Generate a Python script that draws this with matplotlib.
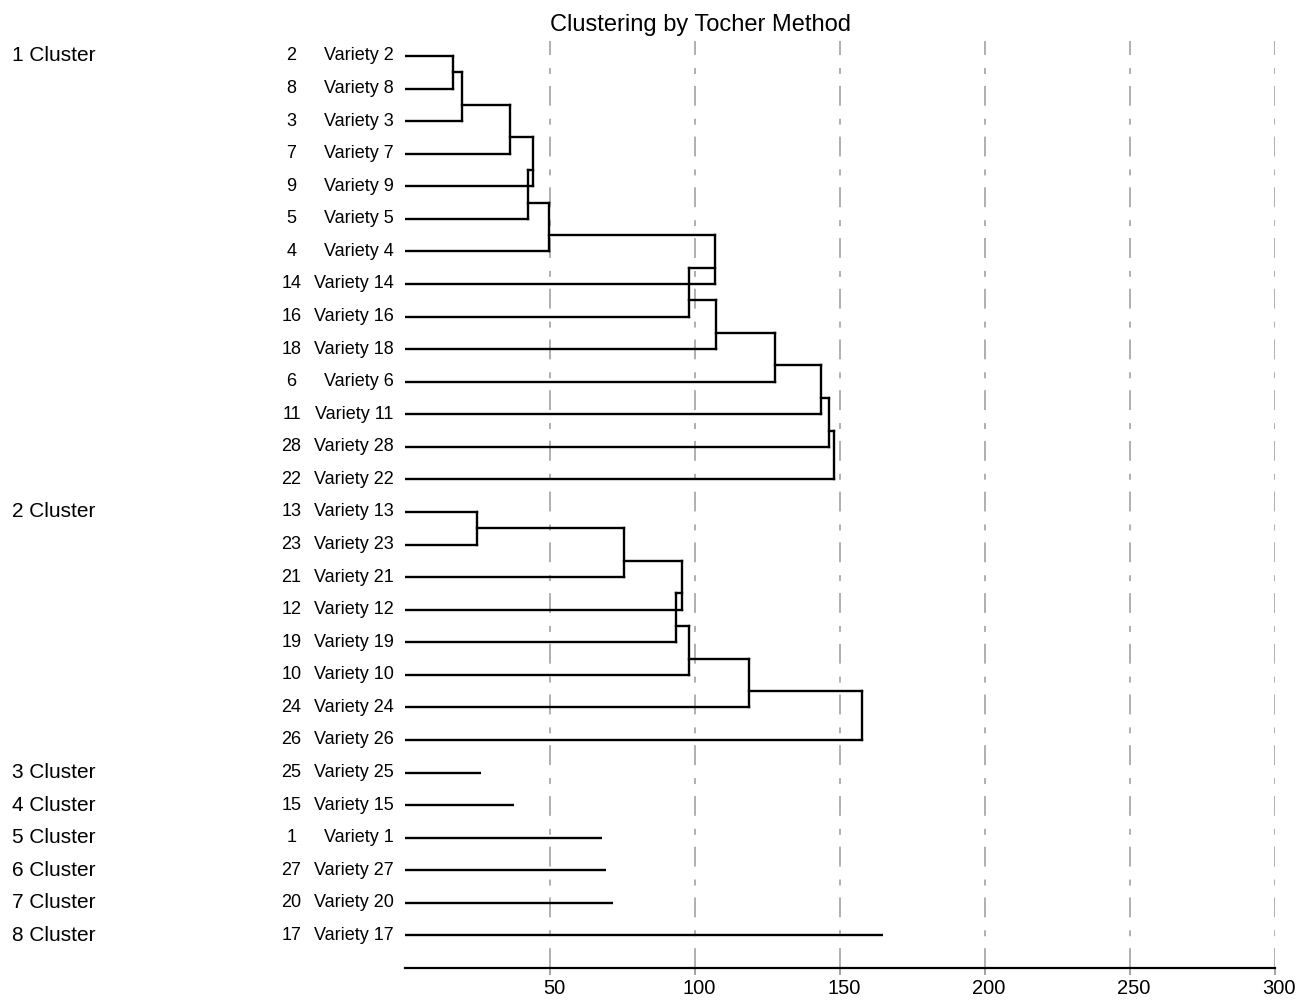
import matplotlib
matplotlib.use("Agg")
import matplotlib.pyplot as plt
import matplotlib.transforms as mtransforms

plt.rcParams['font.family'] = ['Liberation Sans', 'DejaVu Sans']

# Cluster 1: leaf order and successive merge distances
c1_leaves = [2, 8, 3, 7, 9, 5, 4, 14, 16, 18, 6, 11, 28, 22]
c1_heights = [16.7, 19.5, 36.2, 44.3, 42.5, 49.7, 106.9, 98.0, 107.2, 127.7, 143.3, 146.1, 147.9]

# Cluster 2
c2_leaves = [13, 23, 21, 12, 19, 10, 24, 26]
c2_heights = [24.9, 75.4, 95.6, 93.3, 97.9, 118.6, 157.6]

# Single-variety clusters 3..8
single_leaves = [25, 15, 1, 27, 20, 17]
single_values = [26.1, 37.6, 67.8, 69.3, 71.8, 164.9]

cluster_names = ["1 Cluster", "2 Cluster", "3 Cluster", "4 Cluster",
                 "5 Cluster", "6 Cluster", "7 Cluster", "8 Cluster"]
x_ticks = [50, 100, 150, 200, 250, 300]

W, H = 1296, 1001
fig = plt.figure(figsize=(W / 100, H / 100), dpi=100)
ax = fig.add_axes([405 / W, 1 - 968 / H, 870 / W, (968 - 39.7) / H])
ax.set_xlim(0, 300)
ax.set_ylim(28, -0.5)

lw = 1.7
col = "black"


def draw_chain(leaves, heights, r0):
    nx, ny = 0.0, r0
    for k, h in enumerate(heights, start=1):
        r = r0 + k
        ax.plot([nx, h], [ny, ny], color=col, lw=lw, solid_capstyle="projecting")
        ax.plot([h, h], [ny, r], color=col, lw=lw, solid_capstyle="projecting")
        ax.plot([0, h], [r, r], color=col, lw=lw, solid_capstyle="projecting")
        nx, ny = h, r - 0.5


leaves_all = c1_leaves + c2_leaves + single_leaves
draw_chain(c1_leaves, c1_heights, 0)
r2 = len(c1_leaves)
draw_chain(c2_leaves, c2_heights, r2)
r3 = r2 + len(c2_leaves)
for i, v in enumerate(single_values):
    ax.plot([0, v], [r3 + i, r3 + i], color=col, lw=lw, solid_capstyle="butt")

# gridlines
for t in x_ticks:
    ax.plot([t, t], [28, -0.45], color="#9a9a9a", lw=1.1,
            linestyle=(0, (13, 7.8, 3.9, 8.5)), zorder=0)

# labels on the left
trans = mtransforms.blended_transform_factory(fig.transFigure, ax.transData)
for r, leaf in enumerate(leaves_all):
    ax.text(291.5 / W, r, str(leaf), transform=trans, ha="center", va="center", fontsize=13)
    ax.text(393.5 / W, r, f"Variety {leaf}", transform=trans, ha="right", va="center", fontsize=13)

cluster_rows = [0, r2] + [r3 + i for i in range(len(single_leaves))]
for r, name in zip(cluster_rows, cluster_names):
    ax.text(12 / W, r, name, transform=trans, ha="left", va="center", fontsize=15)

fig.text(700 / W, 1 - 25 / H, "Clustering by Tocher Method", ha="center", va="center", fontsize=17)

for s in ["top", "right", "left"]:
    ax.spines[s].set_visible(False)
ax.spines["bottom"].set_linewidth(1.6)
ax.set_yticks([])
ax.set_xticks(x_ticks)
ax.set_xticklabels([str(t) for t in x_ticks])
ax.tick_params(axis="x", direction="out", length=5, width=1.1, color="#8a8a8a",
               labelsize=14.5, pad=3)
shift = mtransforms.ScaledTranslation(4 / 100, 0, fig.dpi_scale_trans)
for lab in ax.get_xticklabels():
    lab.set_transform(lab.get_transform() + shift)

fig.savefig("out.png", dpi=100)
